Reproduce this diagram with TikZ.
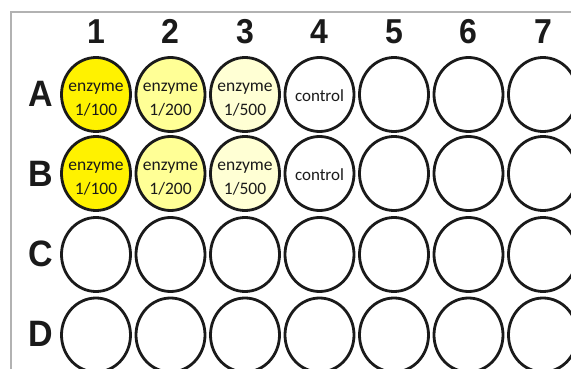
\documentclass[tikz,border=0pt]{standalone}
\usepackage{fontspec}
\setmainfont{Carlito}
\newfontfamily\labfont{Liberation Sans}
\usetikzlibrary{shapes.geometric}
\definecolor{wellA}{RGB}{255,242,0}
\definecolor{wellB}{RGB}{255,255,150}
\definecolor{wellC}{RGB}{255,255,212}
\definecolor{framegray}{RGB}{178,178,178}
\definecolor{ink}{RGB}{26,26,26}
\newcommand{\talltext}[1]{\scalebox{1}[1.08]{#1}}
\begin{document}
\begin{tikzpicture}[x=1pt,y=-1pt,
  well/.style={ellipse, draw=ink, line width=2.8pt, minimum width=69pt, minimum height=74pt, inner sep=0pt},
  welltext/.style={align=center, font=\fontsize{17.5}{24}\selectfont, text=ink, inner sep=0pt},
  collab/.style={font=\labfont\bfseries\fontsize{32}{32}\selectfont, text=ink, inner sep=0pt},
  rowlab/.style={font=\labfont\bfseries\fontsize{34}{34}\selectfont, text=ink, inner sep=0pt},
  frameline/.style={draw=framegray, line width=1.6pt}]
\useasboundingbox (0,0) rectangle (571,369);
\clip (0,0) rectangle (571,369);
\coordinate (bl) at (11,370);
\coordinate (tl) at (11,12);
\coordinate (tr) at (572,12);
\draw[frameline] (bl) -- (tl) -- (tr);
% column labels
\foreach \c in {1,...,7}
  \node[collab] (col\c) at ({96+74.5*(\c-1)},31.5) {\talltext{\c}};
% row labels
\foreach \r [count=\i from 0] in {A,B,C,D}
  \node[rowlab] (row\r) at (40.5,{93.5+80*\i}) {\talltext{\r}};
% wells rows A, B
\foreach \r [count=\i from 0] in {A,B}
  \foreach \c/\f in {1/wellA,2/wellB,3/wellC,4/white,5/white,6/white,7/white}
    \node[well, fill=\f] (\r\c) at ({96+74.5*(\c-1)},{94.5+79*\i}) {};
% wells rows C, D
\foreach \r [count=\i from 0] in {C,D}
  \foreach \c in {1,...,7}
    \node[well, fill=white] (\r\c) at ({96+74.5*(\c-1)},{254.5+80.5*\i}) {};
% well texts
\foreach \r in {A,B}{
  \node[welltext] (t\r1) at ([yshift=-5.5pt]\r1.center) {enzyme\\1/100};
  \node[welltext] (t\r2) at ([yshift=-5.5pt]\r2.center) {enzyme\\1/200};
  \node[welltext] (t\r3) at ([yshift=-5.5pt]\r3.center) {enzyme\\1/500};
  \node[welltext, font=\fontsize{17}{20}\selectfont] (t\r4) at ([yshift=-1pt]\r4.center) {control};
}
\end{tikzpicture}
\end{document}
